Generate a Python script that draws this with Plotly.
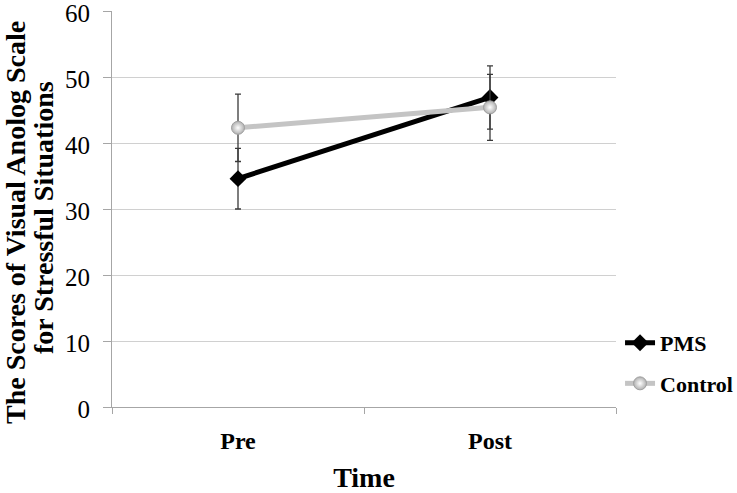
import plotly.graph_objects as go

times = ["Pre", "Post"]
pms_mean = [34.6, 46.9]
pms_err = [4.6, 4.8]
ctrl_mean = [42.3, 45.4]
ctrl_err = [5.1, 5.0]
y_ticks = [0, 10, 20, 30, 40, 50, 60]
y_title_lines = ["The Scores of Visual Anolog Scale", "for Stressful Situations"]

SERIF = "Liberation Serif"

fig = go.Figure()
fig.add_trace(go.Scatter(
    x=times, y=pms_mean, name="PMS", mode="lines+markers",
    line=dict(color="black", width=5),
    marker=dict(symbol="diamond", size=13, color="black"),
    error_y=dict(type="data", array=pms_err, color="#3a3a3a", thickness=1.3, width=3),
    legendgroup="a",
))
fig.add_trace(go.Scatter(
    x=times, y=ctrl_mean, name="Control", mode="lines+markers",
    line=dict(color="#c4c4c4", width=5),
    marker=dict(symbol="circle", size=13, color="#b0b0b0",
                gradient=dict(type="radial", color="#ffffff"),
                line=dict(color="#a0a0a0", width=1)),
    error_y=dict(type="data", array=ctrl_err, color="#3a3a3a", thickness=1.3, width=3),
    legendgroup="b",
))

fig.update_layout(
    width=737, height=493,
    margin=dict(l=112, r=121, t=11, b=86, autoexpand=False),
    paper_bgcolor="white", plot_bgcolor="white",
    font=dict(family=SERIF, color="black"),
    showlegend=True,
    legend=dict(x=1.008, y=0.110, xanchor="left", yanchor="middle",
                font=dict(family=SERIF, size=22, weight="bold"),
                tracegroupgap=9, bgcolor="rgba(0,0,0,0)", itemwidth=30),
    xaxis=dict(
        type="category", range=[-0.5, 1.5], automargin=False,
        showline=True, linecolor="#a6a6a6", linewidth=1,
        ticks="outside", tickson="boundaries", ticklen=6, tickcolor="#a6a6a6",
        ticklabelstandoff=12,
        showgrid=False,
        tickfont=dict(family=SERIF, size=24, weight="bold"),
        title=dict(text="Time", font=dict(family=SERIF, size=28, weight="bold"), standoff=16),
    ),
    yaxis=dict(
        range=[0, 60], tickvals=y_ticks, automargin=False,
        showline=True, linecolor="#a6a6a6", linewidth=1,
        ticks="outside", ticklen=8, tickcolor="#a6a6a6",
        ticklabelstandoff=8, ticklabeloverflow="allow", ticklabelshift=2,
        showgrid=True, gridcolor="#d0d0d0", gridwidth=1,
        zeroline=False,
        tickfont=dict(family=SERIF, size=25),
    ),
    annotations=[
        dict(text=y_title_lines[0], textangle=-90, xref="paper", yref="paper",
             x=-0.1925, y=0.467, xanchor="center", yanchor="middle", showarrow=False,
             font=dict(family=SERIF, size=28, weight="bold")),
        dict(text=y_title_lines[1], textangle=-90, xref="paper", yref="paper",
             x=-0.1369, y=0.477, xanchor="center", yanchor="middle", showarrow=False,
             font=dict(family=SERIF, size=28, weight="bold")),
    ],
)

fig.write_html("out.html", config={"displayModeBar": False},
               post_script="document.body.style.margin='0';")
